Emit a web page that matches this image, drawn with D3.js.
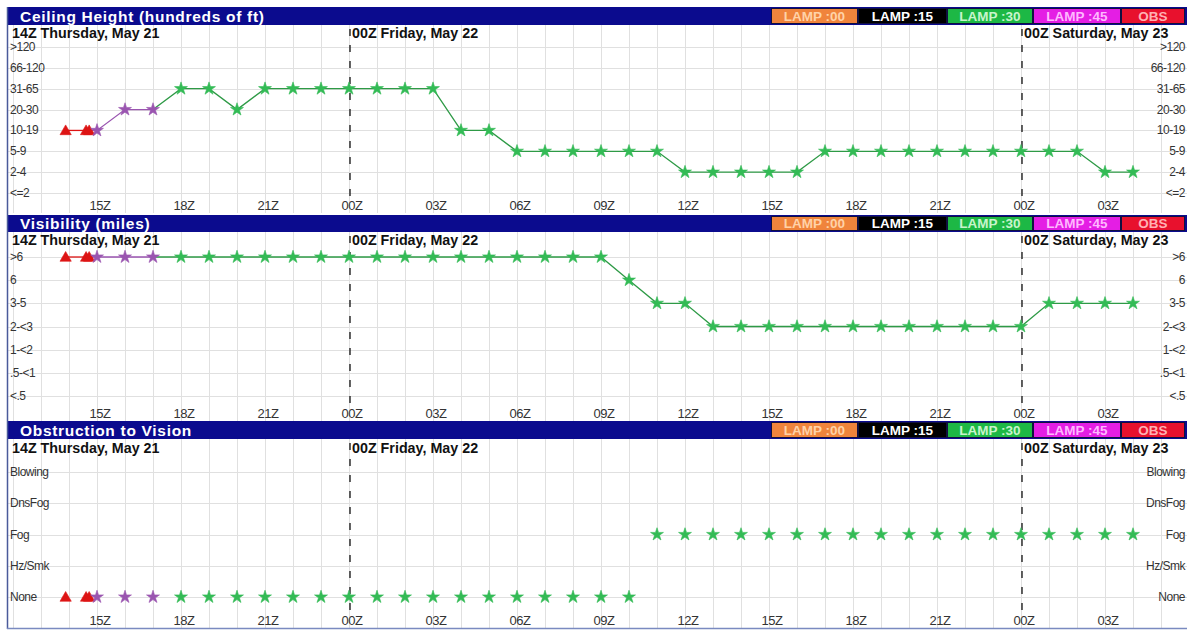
<!DOCTYPE html>
<html><head><meta charset="utf-8">
<script src="https://cdn.jsdelivr.net/npm/d3@7"></script>
<style>
html,body{margin:0;padding:0;background:#fff;}
svg{display:block;font-family:"Liberation Sans",Arial,sans-serif;}
</style></head>
<body>
<svg id="c" width="1187" height="630"></svg>
<script>
// ---------- DATA ----------
const tickHours  = [1,4,7,10,13,16,19,22,25,28,31,34,37];
const tickLabels = ["15Z","18Z","21Z","00Z","03Z","06Z","09Z","12Z","15Z","18Z","21Z","00Z","03Z"];
const dayHours   = [0,10,34];
const dayLabels  = ["14Z Thursday, May 21","00Z Friday, May 22","00Z Saturday, May 23"];

const ceilCats = ["<=2","2-4","5-9","10-19","20-30","31-65","66-120",">120"];
const visCats  = ["<.5",".5-<1","1-<2","2-<3","3-5","6",">6"];
const obvCats  = ["None","Hz/Smk","Fog","DnsFog","Blowing"];

const legendNames = ["LAMP :00","LAMP :15","LAMP :30","LAMP :45","OBS"];

// observations (hours after 14Z Thu)
const obsHours = [-0.12, 0.61, 0.72];
const obsCeil  = ["10-19","10-19","10-19"];
const obsVis   = [">6",">6",">6"];
const obsObv   = ["None","None","None"];

// LAMP :45
const l45Hours = [1,2,3];
const l45Ceil  = ["10-19","20-30","20-30"];
const l45Vis   = [">6",">6",">6"];
const l45Obv   = ["None","None","None"];

// LAMP :30
const l30Hours = [4,5,6,7,8,9,10,11,12,13,14,15,16,17,18,19,20,21,22,23,24,25,26,27,28,29,30,31,32,33,34,35,36,37,38];
const l30Ceil  = ["31-65","31-65","20-30","31-65","31-65","31-65","31-65","31-65","31-65","31-65",
                  "10-19","10-19","5-9","5-9","5-9","5-9","5-9","5-9",
                  "2-4","2-4","2-4","2-4","2-4",
                  "5-9","5-9","5-9","5-9","5-9","5-9","5-9","5-9","5-9","5-9",
                  "2-4","2-4"];
const l30Vis   = [">6",">6",">6",">6",">6",">6",">6",">6",">6",">6",">6",">6",">6",">6",">6",">6",
                  "6","3-5","3-5",
                  "2-<3","2-<3","2-<3","2-<3","2-<3","2-<3","2-<3","2-<3","2-<3","2-<3","2-<3","2-<3",
                  "3-5","3-5","3-5","3-5"];
const l30Obv   = ["None","None","None","None","None","None","None","None","None","None","None","None","None","None","None","None","None",
                  "Fog","Fog","Fog","Fog","Fog","Fog","Fog","Fog","Fog","Fog","Fog","Fog","Fog","Fog","Fog","Fog","Fog","Fog"];

// ---------- STYLE ----------
const W = 1187, H = 630;
const NAVY = "#0b0b8e";
const legendFill = ["#f0843c","#000000","#1db845","#e41ee4","#e8112d"];
const legendText = ["#ffd2a8","#ffffff","#c8f4cc","#ffb8ff","#ffb0b4"];
const colObs = "#dd1414", col45 = "#9a55b0", col30 = "#33bb55", line30 = "#2e9a46";

const svg = d3.select("#c");
const x = d3.scaleLinear().domain([0,34]).range([69, 1021]);

const panels = [
  {title:"Ceiling Height (hundreds of ft)", barY:7, barH:18, dateY:38, cats:ceilCats, top:47, bot:193, tickY:210, dashTop:29, dashBot:202, lines:true,
   series:[{h:obsHours,v:obsCeil,c:colObs,lc:colObs,s:"tri"},{h:l45Hours,v:l45Ceil,c:col45,lc:col45,s:"star"},{h:l30Hours,v:l30Ceil,c:col30,lc:line30,s:"star"}]},
  {title:"Visibility (miles)", barY:215, barH:17, dateY:245, cats:visCats, top:257, bot:396, tickY:418, dashTop:236, dashBot:410, lines:true,
   series:[{h:obsHours,v:obsVis,c:colObs,lc:colObs,s:"tri"},{h:l45Hours,v:l45Vis,c:col45,lc:col45,s:"star"},{h:l30Hours,v:l30Vis,c:col30,lc:line30,s:"star"}]},
  {title:"Obstruction to Vision", barY:421, barH:18, dateY:453, cats:obvCats, top:472, bot:597, tickY:625, dashTop:443, dashBot:616, lines:false,
   series:[{h:obsHours,v:obsObv,c:colObs,lc:colObs,s:"tri"},{h:l45Hours,v:l45Obv,c:col45,lc:col45,s:"star"},{h:l30Hours,v:l30Obv,c:col30,lc:line30,s:"star"}]}
];

const gridHours = d3.range(-2, 40);

panels.forEach(p => {
  const g = svg.append("g");
  const y = d3.scalePoint().domain(p.cats).range([p.bot, p.top]);
  const plotTop = p.barY + p.barH, plotBot = p.tickY + 3;

  // vertical grid
  g.selectAll(".vg").data(gridHours).enter().append("line")
    .attr("x1", d => x(d)+0.5).attr("x2", d => x(d)+0.5)
    .attr("y1", plotTop).attr("y2", plotBot)
    .attr("stroke", "#e0e0e0").attr("stroke-width", 1);
  // horizontal grid
  g.selectAll(".hg").data(p.cats).enter().append("line")
    .attr("x1", 8).attr("x2", W)
    .attr("y1", d => Math.round(y(d))+0.5).attr("y2", d => Math.round(y(d))+0.5)
    .attr("stroke", "#e0e0e0").attr("stroke-width", 1);

  // title bar
  g.append("rect").attr("x", 7).attr("y", p.barY).attr("width", W-7).attr("height", p.barH).attr("fill", NAVY);
  g.append("text").attr("x", 20).attr("y", p.barY + p.barH - 3.5)
    .attr("fill", "#fff").attr("font-weight", "bold").attr("font-size", 15.5).attr("letter-spacing", 0.7)
    .text(p.title);

  // legend boxes
  const widths = [87, 89, 86, 88, 64];
  let cx = 771;
  legendNames.forEach((n, i) => {
    g.append("rect").attr("x", cx + 0.5).attr("y", p.barY + 1.5).attr("width", widths[i] - 1).attr("height", p.barH - 3)
      .attr("fill", legendFill[i]).attr("stroke", "#101040").attr("stroke-width", 1);
    g.append("text").attr("x", cx + widths[i] / 2).attr("y", p.barY + p.barH - 4.5)
      .attr("text-anchor", "middle").attr("fill", legendText[i]).attr("font-weight", "bold").attr("font-size", 13.5)
      .text(n);
    cx += widths[i];
  });

  // day dashed lines
  g.selectAll(".dl").data(dayHours.slice(1)).enter().append("line")
    .attr("x1", d => x(d)+1).attr("x2", d => x(d)+1)
    .attr("y1", p.dashTop).attr("y2", p.dashBot)
    .attr("stroke", "#111").attr("stroke-width", 1.3).attr("stroke-dasharray", "7,9");

  // day labels
  g.selectAll(".dt").data(dayHours).enter().append("text")
    .attr("x", (d, i) => i === 0 ? 12 : x(d) + 3)
    .attr("y", p.dateY)
    .attr("font-weight", "bold").attr("font-size", 14.3).attr("fill", "#111")
    .text((d, i) => dayLabels[i]);

  // left / right category labels
  g.selectAll(".yl").data(p.cats).enter().append("text")
    .attr("x", 10).attr("y", d => y(d) + 4)
    .attr("font-size", 12).attr("fill", "#333").attr("letter-spacing", -0.5)
    .text(d => d);
  g.selectAll(".yr").data(p.cats).enter().append("text")
    .attr("x", 1185).attr("y", d => y(d) + 4).attr("text-anchor", "end")
    .attr("font-size", 12).attr("fill", "#333").attr("letter-spacing", -0.5)
    .text(d => d);

  // bottom hour labels
  g.selectAll(".xl").data(tickHours).enter().append("text")
    .attr("x", d => x(d) + 3).attr("y", p.tickY).attr("text-anchor", "middle")
    .attr("font-size", 13).attr("fill", "#333").attr("letter-spacing", -0.4)
    .text((d, i) => tickLabels[i]);

  // series lines
  if (p.lines) {
    const line = d3.line().x(d => x(d[0])).y(d => y(d[1]));
    p.series.forEach((s, si) => {
      let pts = s.h.map((h, i) => [h, s.v[i]]);
      if (si > 0) {
        const prev = p.series[si - 1];
        pts = [[prev.h[prev.h.length - 1], prev.v[prev.v.length - 1]]].concat(pts);
      }
      g.append("path").attr("d", line(pts)).attr("fill", "none")
        .attr("stroke", s.lc).attr("stroke-width", 1.3);
    });
  }
  // markers
  p.series.forEach(s => {
    const sym = s.s === "tri" ? d3.symbol().type(d3.symbolTriangle).size(55)
                              : d3.symbol().type(d3.symbolStar).size(52);
    g.selectAll(null).data(s.h.map((h, i) => [h, s.v[i]])).enter().append("path")
      .attr("d", sym)
      .attr("transform", d => `translate(${x(d[0])},${y(d[1]) + (s.s === "tri" ? 1 : 0)})`)
      .attr("fill", s.c).attr("stroke", s.c).attr("stroke-width", 0.6);
  });
});

// frame
svg.append("line").attr("x1", 7.5).attr("x2", 7.5).attr("y1", 7).attr("y2", 629).attr("stroke", "#4a5a9a").attr("stroke-width", 1.5);
svg.append("line").attr("x1", 7).attr("x2", W).attr("y1", 628.5).attr("y2", 628.5).attr("stroke", "#7a8ac0").attr("stroke-width", 1.5);
</script>
</body></html>
